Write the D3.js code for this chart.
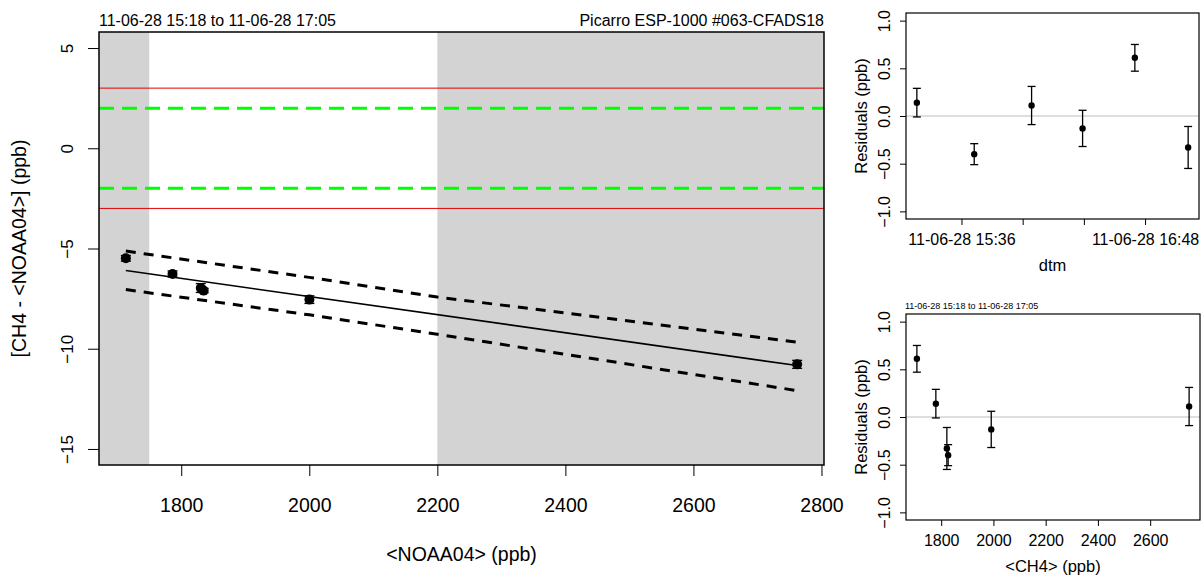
<!DOCTYPE html>
<html>
<head>
<meta charset="utf-8">
<script src="https://cdn.jsdelivr.net/npm/d3@7"></script>
<style>
  body { margin: 0; background: #fff; }
  svg { display: block; }
  text { font-family: "Liberation Sans", Arial, Helvetica, sans-serif; fill: #000; }
</style>
</head>
<body>
<svg id="chart" width="1204" height="579"></svg>
<script>
// measurements, in time order
const times = ["2011-06-28 15:18:30", "2011-06-28 15:41:00", "2011-06-28 16:03:30",
               "2011-06-28 16:23:30", "2011-06-28 16:44:00", "2011-06-28 17:04:54"];
const noaa = [1786.4, 1835.0, 2762.0, 2000.2, 1713.5, 1830.5];
const ch4 = [1779.6, 1826.6, 2749.0, 1991.6, 1707.0, 1821.7];
const diffs = [-6.27, -7.10, -10.78, -7.55, -5.49, -6.97];
const residuals = [0.14, -0.40, 0.11, -0.13, 0.61, -0.33];
const errors = [0.15, 0.11, 0.20, 0.19, 0.14, 0.22];

// fit and prediction band
const fitX = [1713.5, 2762.0];
const fitY = [-6.10, -10.84];
const bandX = [1713.5, 2000, 2200, 2762];
const bandUpper = [-5.13, -6.44, -7.42, -9.67];
const bandLower = [-7.05, -8.31, -9.28, -12.09];

const redLimits = [3, -3];
const greenLimits = [2, -2];
const whiteRange = [1750, 2200];   // grey outside of this

const mainYTicks = [-15, -10, -5, 0, 5];
const mainXTicks = [1800, 2000, 2200, 2400, 2600, 2800];
const residTicks = [-1, -0.5, 0, 0.5, 1];
const timeTicks = ["2011-06-28 15:36:00", "2011-06-28 16:00:00", "2011-06-28 16:24:00", "2011-06-28 16:48:00"];
const timeTickLabels = ["11-06-28 15:36", "", "", "11-06-28 16:48"];
const ch4Ticks = [1800, 2000, 2200, 2400, 2600];

const titleLeft = "11-06-28 15:18 to 11-06-28 17:05";
const titleRight = "Picarro ESP-1000 #063-CFADS18";

const parseTime = d3.timeParse("%Y-%m-%d %H:%M:%S");

// R style axis range: data range + 4%
function rRange(ext) {
  let a = +ext[0], b = +ext[1];
  let d = (b - a) * 0.04;
  return [a - d, b + d];
}

const svg = d3.select("#chart");

const MAIN = { left: 99, right: 824, top: 32, bottom: 465 };
const TOPR = { left: 906, right: 1199, top: 13, bottom: 219 };
const BOTR = { left: 906, right: 1200, top: 314, bottom: 520 };

function rotLabels(g, offset, size) {
  g.selectAll(".tick text")
    .attr("x", null).attr("dy", null)
    .attr("text-anchor", "middle")
    .style("font-size", size + "px")
    .attr("transform", "translate(" + (-offset) + ",0) rotate(-90)");
}

function bottomLabels(g, base, size) {
  g.selectAll(".tick text")
    .attr("y", base).attr("dy", null)
    .style("font-size", size + "px");
}

function errorBars(g, xs, ys, x, y, cap, r) {
  let idx = d3.range(xs.length);
  g.selectAll(null).data(idx).join("line")
    .attr("x1", i => x(xs[i])).attr("x2", i => x(xs[i]))
    .attr("y1", i => y(ys[i] - errors[i])).attr("y2", i => y(ys[i] + errors[i]))
    .attr("stroke", "#000").attr("stroke-width", 1.3);
  [-1, 1].forEach(function(s) {
    g.selectAll(null).data(idx).join("line")
      .attr("x1", i => x(xs[i]) - cap / 2).attr("x2", i => x(xs[i]) + cap / 2)
      .attr("y1", i => y(ys[i] + s * errors[i])).attr("y2", i => y(ys[i] + s * errors[i]))
      .attr("stroke", "#000").attr("stroke-width", 1.3);
  });
  g.selectAll(null).data(idx).join("circle")
    .attr("cx", i => x(xs[i])).attr("cy", i => y(ys[i]))
    .attr("r", r).attr("fill", "#000");
}

// ---------------- main plot ----------------
const x = d3.scaleLinear().domain(rRange(d3.extent(noaa))).range([MAIN.left, MAIN.right]);
const y = d3.scaleLinear().domain(rRange([-15, 5])).range([MAIN.bottom, MAIN.top]);
const xd = x.domain();

const main = svg.append("g");

// grey shading outside of the white range
[[xd[0], whiteRange[0]], [whiteRange[1], xd[1]]].forEach(function(r) {
  main.append("rect")
    .attr("x", x(r[0])).attr("y", MAIN.top)
    .attr("width", x(r[1]) - x(r[0])).attr("height", MAIN.bottom - MAIN.top)
    .attr("fill", "#d3d3d3");
});

main.selectAll(null).data(redLimits).join("line")
  .attr("x1", MAIN.left).attr("x2", MAIN.right)
  .attr("y1", d => y(d)).attr("y2", d => y(d))
  .attr("stroke", "#e00000").attr("stroke-width", 1);

main.selectAll(null).data(greenLimits).join("line")
  .attr("x1", MAIN.left).attr("x2", MAIN.right)
  .attr("y1", d => y(d)).attr("y2", d => y(d))
  .attr("stroke", "#00ff00").attr("stroke-width", 3)
  .attr("stroke-dasharray", "15,8");

let line = d3.line().x(d => x(d[0])).y(d => y(d[1]));
main.append("path")
  .attr("d", line(d3.zip(fitX, fitY)))
  .attr("fill", "none").attr("stroke", "#000").attr("stroke-width", 1.6);
[bandUpper, bandLower].forEach(function(b) {
  main.append("path")
    .attr("d", line(d3.zip(bandX, b)))
    .attr("fill", "none").attr("stroke", "#000").attr("stroke-width", 3)
    .attr("stroke-dasharray", "10,8");
});

errorBars(main, noaa, diffs, x, y, 10, 5);

main.append("rect")
  .attr("x", MAIN.left).attr("y", MAIN.top)
  .attr("width", MAIN.right - MAIN.left).attr("height", MAIN.bottom - MAIN.top)
  .attr("fill", "none").attr("stroke", "#000").attr("stroke-width", 1.5);

let gx = main.append("g")
  .attr("transform", "translate(0," + MAIN.bottom + ")")
  .call(d3.axisBottom(x).tickValues(mainXTicks).tickSize(11).tickFormat(d3.format("d")));
gx.select(".domain").remove();
bottomLabels(gx, 47, 19.5);

let gy = main.append("g")
  .attr("transform", "translate(" + MAIN.left + ",0)")
  .call(d3.axisLeft(y).tickValues(mainYTicks).tickSize(11).tickFormat(d3.format("d")));
gy.select(".domain").remove();
rotLabels(gy, 26, 17);

main.append("text")
  .attr("x", (MAIN.left + MAIN.right) / 2).attr("y", 561)
  .attr("text-anchor", "middle").style("font-size", "19.5px")
  .text("<NOAA04> (ppb)");
main.append("text")
  .attr("transform", "translate(26," + (MAIN.top + MAIN.bottom) / 2 + ") rotate(-90)")
  .attr("text-anchor", "middle").style("font-size", "19.5px")
  .text("[CH4 - <NOAA04>] (ppb)");
main.append("text")
  .attr("x", MAIN.left).attr("y", 26)
  .style("font-size", "16px").text(titleLeft);
main.append("text")
  .attr("x", MAIN.right).attr("y", 26)
  .attr("text-anchor", "end").style("font-size", "16px").text(titleRight);

// ---------------- residual panels ----------------
function residPanel(P, xs, xScale, xTicks, xFormat, xTitle) {
  let g = svg.append("g");
  let yr = d3.scaleLinear().domain(rRange([-1, 1])).range([P.bottom, P.top]);

  g.append("line")
    .attr("x1", P.left).attr("x2", P.right)
    .attr("y1", yr(0)).attr("y2", yr(0))
    .attr("stroke", "#bebebe").attr("stroke-width", 1.2);

  errorBars(g, xs, residuals, xScale, yr, 8, 3.2);

  g.append("rect")
    .attr("x", P.left).attr("y", P.top)
    .attr("width", P.right - P.left).attr("height", P.bottom - P.top)
    .attr("fill", "none").attr("stroke", "#000").attr("stroke-width", 1.2);

  let ax = g.append("g")
    .attr("transform", "translate(0," + P.bottom + ")")
    .call(d3.axisBottom(xScale).tickValues(xTicks).tickSize(6).tickFormat(xFormat));
  ax.select(".domain").remove();
  bottomLabels(ax, 26, 16);

  let ay = g.append("g")
    .attr("transform", "translate(" + P.left + ",0)")
    .call(d3.axisLeft(yr).tickValues(residTicks).tickSize(6).tickFormat(d3.format(".1f")));
  ay.select(".domain").remove();
  rotLabels(ay, 16, 16);

  g.append("text")
    .attr("transform", "translate(867," + (P.top + P.bottom) / 2 + ") rotate(-90)")
    .attr("text-anchor", "middle").style("font-size", "16.5px")
    .text("Residuals (ppb)");
  g.append("text")
    .attr("x", (P.left + P.right) / 2).attr("y", P.bottom + 52)
    .attr("text-anchor", "middle").style("font-size", "16.5px")
    .text(xTitle);
  return g;
}

const tDates = times.map(parseTime);
const xt = d3.scaleTime().domain(rRange(d3.extent(tDates))).range([TOPR.left, TOPR.right]);
const tTicks = timeTicks.map(parseTime);
residPanel(TOPR, tDates, xt, tTicks, (d, i) => timeTickLabels[i], "dtm");

const xc = d3.scaleLinear().domain(rRange(d3.extent(ch4))).range([BOTR.left, BOTR.right]);
let bot = residPanel(BOTR, ch4, xc, ch4Ticks, d3.format("d"), "<CH4> (ppb)");
bot.append("text")
  .attr("x", BOTR.left - 1).attr("y", BOTR.top - 5)
  .style("font-size", "9px").text(titleLeft);
</script>
</body>
</html>
